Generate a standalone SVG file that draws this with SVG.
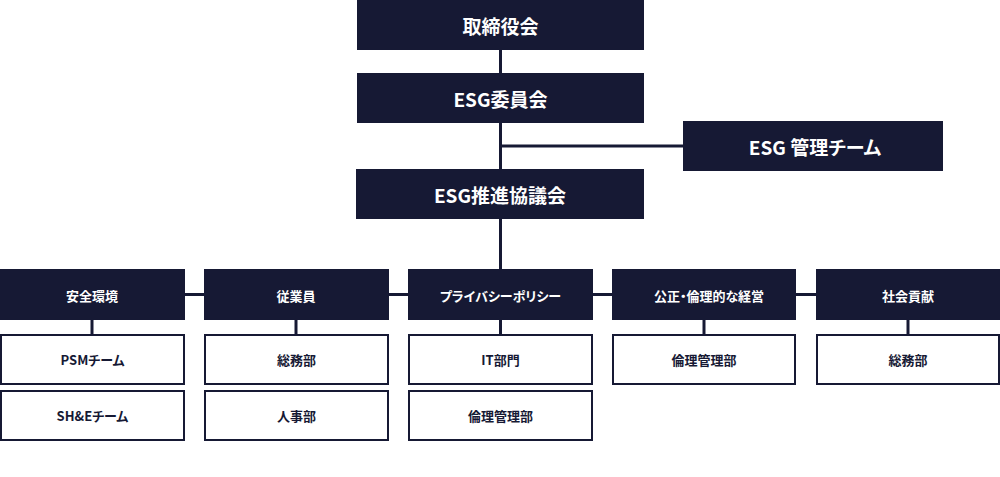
<svg xmlns="http://www.w3.org/2000/svg" width="1000" height="477" viewBox="0 0 1000 477">
<style>
.dark{fill:#161934}
.light{fill:#ffffff;stroke:#161934;stroke-width:2}
.t{font-family:"Noto Sans CJK JP","Noto Sans",sans-serif;font-weight:700;text-anchor:middle;dominant-baseline:central;font-feature-settings:"palt"}
.big{font-size:19px;fill:#ffffff}
.hd{font-size:13px;fill:#ffffff}
.ch{font-size:13px;fill:#161934}
.ln{stroke:#161934;stroke-width:3;fill:none}
</style>
<rect width="1000" height="477" fill="#ffffff"/>
<g id="connectors">
<line class="ln" x1="500.5" y1="50" x2="500.5" y2="269"/>
<line class="ln" x1="500.5" y1="146" x2="683" y2="146"/>
<line class="ln" x1="184" y1="294.5" x2="816" y2="294.5"/>
<line class="ln" x1="92" y1="320" x2="92" y2="334"/>
<line class="ln" x1="296" y1="320" x2="296" y2="334"/>
<line class="ln" x1="500.5" y1="320" x2="500.5" y2="334"/>
<line class="ln" x1="704" y1="320" x2="704" y2="334"/>
<line class="ln" x1="908" y1="320" x2="908" y2="334"/>
</g>
<g id="board"><rect class="dark" x="357" y="0" width="287" height="50"/><text class="t big" x="500.5" y="25">取締役会</text></g>
<g id="esg-committee"><rect class="dark" x="357" y="73" width="287" height="50"/><text class="t big" x="500.5" y="98">ESG委員会</text></g>
<g id="esg-team"><rect class="dark" x="683" y="121" width="260" height="50"/><text class="t big" x="815" y="146">ESG 管理チーム</text></g>
<g id="esg-council"><rect class="dark" x="356" y="169" width="288" height="50"/><text class="t big" x="500" y="194">ESG推進協議会</text></g>

<g id="safety"><rect class="dark" x="0" y="269" width="185" height="51"/><text class="t hd" x="92" y="295">安全環境</text></g>
<g id="employees"><rect class="dark" x="204" y="269" width="185" height="51"/><text class="t hd" x="296" y="295">従業員</text></g>
<g id="privacy"><rect class="dark" x="408" y="269" width="185" height="51"/><text class="t hd" x="500.5" y="295">プライバシーポリシー</text></g>
<g id="ethics"><rect class="dark" x="612" y="269" width="184" height="51"/><text class="t hd" x="709" y="295">公正・倫理的な経営</text></g>
<g id="social"><rect class="dark" x="816" y="269" width="184" height="51"/><text class="t hd" x="908" y="295">社会貢献</text></g>

<g id="psm"><rect class="light" x="1" y="335" width="183" height="49"/><text class="t ch" x="92.5" y="359.5">PSMチーム</text></g>
<g id="she"><rect class="light" x="1" y="391" width="183" height="49"/><text class="t ch" x="92.5" y="415.5">SH&amp;Eチーム</text></g>
<g id="ga1"><rect class="light" x="205" y="335" width="183" height="49"/><text class="t ch" x="296.5" y="359.5">総務部</text></g>
<g id="hr"><rect class="light" x="205" y="391" width="183" height="49"/><text class="t ch" x="296.5" y="415.5">人事部</text></g>
<g id="it"><rect class="light" x="409" y="335" width="183" height="49"/><text class="t ch" x="500.5" y="359.5">IT部門</text></g>
<g id="ethics-dept1"><rect class="light" x="409" y="391" width="183" height="49"/><text class="t ch" x="500.5" y="415.5">倫理管理部</text></g>
<g id="ethics-dept2"><rect class="light" x="613" y="335" width="182" height="49"/><text class="t ch" x="704" y="359.5">倫理管理部</text></g>
<g id="ga2"><rect class="light" x="817" y="335" width="182" height="49"/><text class="t ch" x="908" y="359.5">総務部</text></g>
</svg>
